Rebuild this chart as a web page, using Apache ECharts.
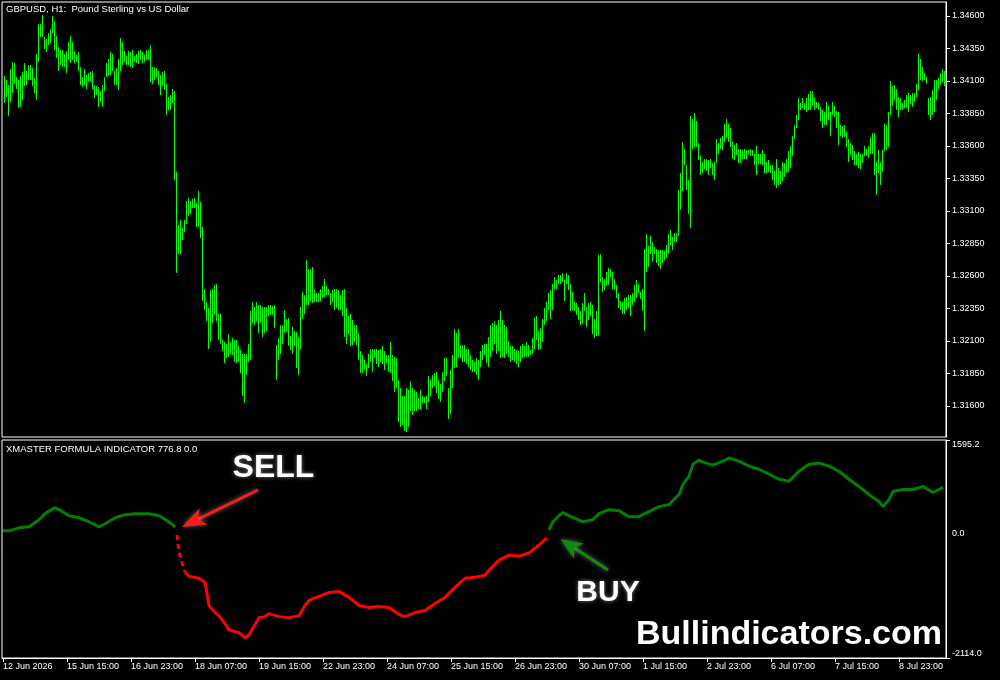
<!DOCTYPE html>
<html><head><meta charset="utf-8">
<script src="https://cdn.jsdelivr.net/npm/echarts@6/dist/echarts.min.js"></script>
<style>html,body{margin:0;padding:0;background:#000}#c{width:1000px;height:680px}</style>
</head><body><div id="c"></div>
<script>
const highs = [
1.3414,1.3411,1.3407,1.3419,1.3425,1.3424,1.3413,1.3411,1.3414,1.3417,1.3424,1.3418,1.3422,1.3422,1.3420,1.3412,1.3431,1.3454,1.3454,1.3461,
1.3444,1.3442,1.3447,1.3450,1.3460,1.3456,1.3445,1.3436,1.3434,1.3434,1.3431,1.3433,1.3440,1.3445,1.3440,1.3433,1.3430,1.3432,1.3421,1.3413,
1.3419,1.3415,1.3416,1.3417,1.3418,1.3407,1.3406,1.3405,1.3402,1.3407,1.3413,1.3424,1.3427,1.3432,1.3431,1.3418,1.3420,1.3427,1.3443,1.3440,
1.3433,1.3429,1.3433,1.3432,1.3434,1.3429,1.3431,1.3433,1.3434,1.3432,1.3430,1.3434,1.3434,1.3438,1.3421,1.3421,1.3420,1.3418,1.3415,1.3417,
1.3418,1.3408,1.3398,1.3399,1.3404,1.3402,1.3340,1.3299,1.3303,1.3297,1.3303,1.3318,1.3320,1.3318,1.3319,1.3320,1.3316,1.3325,1.3317,1.3298,
1.3250,1.3240,1.3235,1.3249,1.3250,1.3253,1.3254,1.3231,1.3231,1.3211,1.3209,1.3208,1.3215,1.3209,1.3212,1.3211,1.3211,1.3207,1.3203,1.3200,
1.3200,1.3200,1.3208,1.3233,1.3240,1.3236,1.3240,1.3238,1.3238,1.3236,1.3236,1.3236,1.3238,1.3238,1.3237,1.3238,1.3207,1.3212,1.3222,1.3222,
1.3234,1.3227,1.3228,1.3214,1.3221,1.3218,1.3217,1.3213,1.3236,1.3248,1.3245,1.3272,1.3265,1.3265,1.3267,1.3249,1.3247,1.3247,1.3250,1.3252,
1.3258,1.3252,1.3250,1.3247,1.3249,1.3250,1.3250,1.3249,1.3245,1.3249,1.3250,1.3235,1.3229,1.3231,1.3226,1.3222,1.3222,1.3216,1.3202,1.3199,
1.3195,1.3192,1.3200,1.3204,1.3204,1.3204,1.3204,1.3203,1.3204,1.3206,1.3202,1.3199,1.3199,1.3209,1.3199,1.3198,1.3197,1.3180,1.3174,1.3168,
1.3168,1.3174,1.3172,1.3179,1.3174,1.3172,1.3171,1.3166,1.3172,1.3168,1.3167,1.3168,1.3183,1.3180,1.3184,1.3185,1.3186,1.3180,1.3177,1.3186,
1.3197,1.3197,1.3174,1.3188,1.3199,1.3219,1.3216,1.3219,1.3207,1.3207,1.3207,1.3204,1.3204,1.3199,1.3195,1.3194,1.3197,1.3195,
1.3202,1.3207,1.3208,1.3208,1.3213,1.3222,1.3224,1.3225,1.3222,1.3226,1.3233,1.3226,1.3222,1.3221,1.3210,1.3206,1.3206,1.3204,1.3203,1.3202,
1.3206,1.3208,1.3206,1.3209,1.3207,1.3203,1.3212,1.3228,1.3229,1.3218,1.3220,1.3227,1.3235,1.3240,1.3247,1.3249,1.3254,1.3259,1.3257,1.3261,
1.3261,1.3262,1.3257,1.3262,1.3261,1.3254,1.3248,1.3240,1.3239,1.3236,1.3233,1.3239,1.3247,1.3236,1.3239,1.3240,1.3238,1.3227,1.3233,1.3276,
1.3277,1.3259,1.3258,1.3263,1.3266,1.3265,1.3263,1.3258,1.3253,1.3247,1.3241,1.3240,1.3243,1.3244,1.3245,1.3245,1.3247,1.3253,1.3257,1.3254,
1.3248,1.3250,1.3281,1.3292,1.3283,1.3291,1.3286,1.3282,1.3281,1.3280,1.3280,1.3280,1.3279,1.3284,1.3292,1.3295,1.3290,1.3293,1.3293,1.3326,
1.3339,1.3363,1.3358,1.3345,1.3334,1.3383,1.3381,1.3385,1.3379,1.3362,1.3352,1.3348,1.3350,1.3350,1.3349,1.3350,1.3347,1.3348,1.3365,1.3362,
1.3366,1.3368,1.3377,1.3381,1.3377,1.3374,1.3363,1.3361,1.3362,1.3358,1.3358,1.3357,1.3358,1.3357,1.3357,1.3358,1.3357,1.3354,1.3360,1.3354,
1.3354,1.3357,1.3354,1.3348,1.3349,1.3345,1.3345,1.3341,1.3350,1.3343,1.3341,1.3348,1.3347,1.3350,1.3356,1.3360,1.3368,1.3376,1.3384,1.3397,
1.3393,1.3397,1.3393,1.3397,1.3400,1.3402,1.3402,1.3398,1.3394,1.3393,1.3390,1.3388,1.3386,1.3394,1.3391,1.3386,1.3394,1.3391,1.3387,1.3386,
1.3376,1.3375,1.3376,1.3371,1.3365,1.3362,1.3361,1.3356,1.3354,1.3355,1.3354,1.3354,1.3360,1.3358,1.3360,1.3367,1.3370,1.3370,1.3348,1.3357,
1.3348,1.3357,1.3377,1.3376,1.3386,1.3410,1.3406,1.3407,1.3404,1.3398,1.3397,1.3393,1.3395,1.3399,1.3401,1.3399,1.3401,1.3401,1.3408,1.3431,
1.3427,1.3421,1.3416,1.3413,1.3397,1.3398,1.3403,1.3411,1.3411,1.3412,1.3416,1.3419,1.3418
];
const lows = [
1.3393,1.3398,1.3383,1.3394,1.3401,1.3408,1.3404,1.3389,1.3390,1.3395,1.3406,1.3407,1.3411,1.3411,1.3406,1.3401,1.3395,1.3425,1.3444,1.3444,
1.3435,1.3432,1.3438,1.3439,1.3447,1.3434,1.3428,1.3418,1.3422,1.3421,1.3421,1.3416,1.3426,1.3424,1.3426,1.3424,1.3425,1.3418,1.3407,1.3405,
1.3407,1.3404,1.3409,1.3409,1.3404,1.3397,1.3399,1.3390,1.3394,1.3390,1.3402,1.3413,1.3414,1.3415,1.3418,1.3407,1.3407,1.3403,1.3418,1.3422,
1.3425,1.3422,1.3422,1.3421,1.3420,1.3425,1.3424,1.3423,1.3426,1.3424,1.3425,1.3426,1.3426,1.3409,1.3408,1.3411,1.3412,1.3407,1.3399,1.3406,
1.3403,1.3384,1.3388,1.3388,1.3393,1.3334,1.3262,1.3277,1.3277,1.3288,1.3294,1.3300,1.3306,1.3308,1.3312,1.3312,1.3298,1.3298,1.3289,1.3241,
1.3234,1.3225,1.3204,1.3209,1.3224,1.3230,1.3225,1.3211,1.3208,1.3202,1.3193,1.3197,1.3198,1.3200,1.3199,1.3194,1.3193,1.3194,1.3185,1.3168,
1.3162,1.3184,1.3194,1.3195,1.3224,1.3222,1.3225,1.3216,1.3224,1.3213,1.3216,1.3218,1.3229,1.3230,1.3230,1.3220,1.3180,1.3195,1.3200,1.3208,
1.3216,1.3217,1.3206,1.3203,1.3200,1.3206,1.3189,1.3184,1.3204,1.3227,1.3231,1.3238,1.3238,1.3240,1.3239,1.3240,1.3240,1.3240,1.3241,1.3243,
1.3244,1.3245,1.3245,1.3238,1.3240,1.3234,1.3235,1.3234,1.3234,1.3229,1.3213,1.3208,1.3215,1.3206,1.3207,1.3209,1.3207,1.3195,1.3185,1.3185,
1.3188,1.3183,1.3189,1.3194,1.3186,1.3197,1.3192,1.3190,1.3194,1.3192,1.3188,1.3193,1.3186,1.3185,1.3179,1.3171,1.3174,1.3148,1.3144,1.3145,
1.3141,1.3140,1.3144,1.3156,1.3153,1.3156,1.3156,1.3158,1.3158,1.3162,1.3162,1.3158,1.3163,1.3168,1.3174,1.3175,1.3170,1.3165,1.3163,1.3171,
1.3179,1.3183,1.3150,1.3154,1.3174,1.3189,1.3190,1.3197,1.3197,1.3194,1.3194,1.3192,1.3190,1.3188,1.3186,1.3186,1.3184,1.3180,
1.3190,1.3195,1.3199,1.3193,1.3190,1.3198,1.3202,1.3208,1.3200,1.3202,1.3197,1.3198,1.3197,1.3200,1.3198,1.3194,1.3195,1.3194,1.3192,1.3190,
1.3194,1.3197,1.3198,1.3198,1.3198,1.3199,1.3200,1.3204,1.3211,1.3203,1.3204,1.3209,1.3222,1.3225,1.3234,1.3227,1.3234,1.3250,1.3250,1.3254,
1.3254,1.3255,1.3241,1.3254,1.3249,1.3233,1.3234,1.3233,1.3230,1.3226,1.3222,1.3223,1.3233,1.3221,1.3226,1.3229,1.3215,1.3212,1.3214,1.3214,
1.3255,1.3248,1.3249,1.3252,1.3253,1.3259,1.3250,1.3250,1.3243,1.3235,1.3234,1.3231,1.3231,1.3234,1.3235,1.3229,1.3238,1.3240,1.3243,1.3247,
1.3242,1.3233,1.3218,1.3263,1.3267,1.3277,1.3271,1.3277,1.3270,1.3268,1.3265,1.3270,1.3272,1.3274,1.3277,1.3284,1.3280,1.3286,1.3286,1.3291,
1.3311,1.3325,1.3345,1.3326,1.3308,1.3297,1.3358,1.3359,1.3359,1.3349,1.3338,1.3339,1.3342,1.3341,1.3338,1.3343,1.3338,1.3334,1.3347,1.3354,
1.3358,1.3357,1.3363,1.3366,1.3363,1.3359,1.3350,1.3349,1.3353,1.3347,1.3347,1.3350,1.3350,1.3350,1.3354,1.3352,1.3352,1.3345,1.3338,1.3346,
1.3346,1.3345,1.3339,1.3339,1.3340,1.3339,1.3334,1.3330,1.3328,1.3330,1.3331,1.3333,1.3336,1.3339,1.3340,1.3343,1.3352,1.3365,1.3374,1.3380,
1.3388,1.3389,1.3388,1.3386,1.3388,1.3388,1.3391,1.3388,1.3389,1.3388,1.3379,1.3374,1.3376,1.3376,1.3380,1.3368,1.3384,1.3382,1.3374,1.3361,
1.3368,1.3366,1.3367,1.3359,1.3348,1.3353,1.3349,1.3345,1.3345,1.3343,1.3342,1.3347,1.3352,1.3352,1.3351,1.3354,1.3354,1.3338,1.3322,1.3339,
1.3330,1.3340,1.3356,1.3357,1.3359,1.3384,1.3391,1.3395,1.3388,1.3382,1.3388,1.3388,1.3389,1.3389,1.3386,1.3392,1.3390,1.3394,1.3398,1.3403,
1.3411,1.3410,1.3411,1.3408,1.3384,1.3380,1.3384,1.3386,1.3395,1.3404,1.3407,1.3409,1.3406
];
// indicator readings: [bar index, value]
const indGreenA = [[0,50],[3,50],[8,101],[13,118],[18,239],[21,342],[26,445],[29,393],[33,307],[38,273],[43,204],[48,118],[51,170],[56,273],[61,325],[66,342],[73,342],[78,307],[83,204],[86,118]];
const indRedStart = [[87,-19],[88,-311],[91,-654]];
const indRed = [[91,-654],[93,-723],[98,-757],[101,-826],[103,-1221],[106,-1341],[108,-1393],[111,-1530],[113,-1633],[118,-1684],[121,-1770],[123,-1719],[126,-1547],[128,-1427],[131,-1410],[133,-1359],[138,-1410],[143,-1427],[148,-1393],[151,-1221],[153,-1135],[158,-1066],[163,-998],[168,-981],[173,-1083],[178,-1221],[183,-1255],[188,-1238],[193,-1255],[198,-1375],[201,-1410],[206,-1341],[211,-1307],[216,-1187],[221,-1083],[226,-912],[231,-757],[236,-740],[241,-706],[243,-620],[248,-448],[253,-363],[258,-380],[263,-328],[268,-191],[272,-70]];
const indGreenB = [[273,67],[275,204],[278,307],[280,359],[285,273],[290,204],[295,239],[298,342],[303,410],[308,393],[313,290],[318,290],[323,376],[328,462],[333,496],[338,668],[340,840],[343,977],[345,1184],[348,1253],[350,1219],[355,1167],[360,1236],[363,1288],[368,1236],[373,1150],[378,1098],[383,1013],[388,927],[393,892],[398,1064],[403,1184],[408,1201],[413,1150],[418,1064],[423,927],[428,805],[433,668],[438,547],[440,462],[443,582],[445,719],[450,754],[455,754],[460,805],[465,702],[470,788]];
const priceTicks = [1.3160,1.3185,1.3210,1.3235,1.3260,1.3285,1.3310,1.3335,1.3360,1.3385,1.3410,1.3435,1.3460];
const indTicks = [-2114.0, 0.0, 1595.2];
const timeLabels = ['12 Jun 2026','15 Jun 15:00','16 Jun 23:00','18 Jun 07:00','19 Jun 15:00','22 Jun 23:00','24 Jun 07:00','25 Jun 15:00','26 Jun 23:00','30 Jun 07:00','1 Jul 15:00','2 Jul 23:00','6 Jul 07:00','7 Jul 15:00','8 Jul 23:00'];
const LABEL_STEP = 32;

// hourly categories (weekends skipped), plus the next, still empty hour at the right edge
const categories = [];
let t = Date.UTC(2026, 5, 12, 7);
while (categories.length < highs.length + 1) {
  const wd = new Date(t).getUTCDay();
  if (wd !== 0 && wd !== 6) categories.push(t);
  t += 3600000;
}

const FONT = '"Liberation Sans", Arial, sans-serif';
const chart = echarts.init(document.getElementById('c'), null, {renderer: 'canvas'});

function arrow(tail, tip, headLen, headHalf, color) {
  const dx = tip[0] - tail[0], dy = tip[1] - tail[1];
  const L = Math.hypot(dx, dy), ux = dx / L, uy = dy / L, nx = -uy, ny = ux;
  const bx = tip[0] - headLen * ux, by = tip[1] - headLen * uy;
  const notchX = tip[0] - headLen * 0.75 * ux, notchY = tip[1] - headLen * 0.75 * uy;
  const shadow = {shadowBlur: 5, shadowColor: 'rgba(150,150,150,0.7)'};
  return [
    {type: 'polyline', silent: true, shape: {points: [tail, [notchX, notchY]]}, style: Object.assign({stroke: color, lineWidth: 3, fill: null}, shadow), z: 100},
    {type: 'polygon', silent: true, shape: {points: [tip, [bx + headHalf * nx, by + headHalf * ny], [notchX, notchY], [bx - headHalf * nx, by - headHalf * ny]]}, style: Object.assign({fill: color}, shadow), z: 100}
  ];
}

const option = {
  backgroundColor: '#000',
  animation: false,
  grid: [
    {left: 2, right: 54, top: 2, height: 435, show: true, borderColor: '#fff', borderWidth: 1, backgroundColor: 'transparent'},
    {left: 2, right: 54, top: 440, height: 218, show: true, borderColor: '#fff', borderWidth: 1, backgroundColor: 'transparent'}
  ],
  xAxis: [
    {type: 'category', gridIndex: 0, data: categories, boundaryGap: true, axisLine: {show: false}, axisTick: {show: false}, axisLabel: {show: false}, splitLine: {show: false}},
    {type: 'category', gridIndex: 1, data: categories, boundaryGap: true,
     axisLine: {show: true, onZero: false, lineStyle: {color: '#fff', width: 1}},
     axisTick: {show: true, alignWithLabel: true, length: 4, interval: (i) => i % LABEL_STEP === 0, lineStyle: {color: '#fff'}},
     axisLabel: {show: true, interval: (i) => i % LABEL_STEP === 0, formatter: (v, i) => timeLabels[Math.round(i / LABEL_STEP)] || '', align: 'left', color: '#fff', fontSize: 9, fontFamily: FONT, margin: 4},
     splitLine: {show: false}}
  ],
  yAxis: [
    {type: 'value', gridIndex: 0, position: 'right', min: 1.313615, max: 1.347077, scale: true,
     axisLine: {show: true, lineStyle: {color: '#fff'}},
     axisTick: {show: true, length: 4, customValues: priceTicks, lineStyle: {color: '#fff'}},
     axisLabel: {show: true, customValues: priceTicks, formatter: (v) => v.toFixed(5), color: '#fff', fontSize: 9, fontFamily: FONT, margin: 6},
     splitLine: {show: false}},
    {type: 'value', gridIndex: 1, position: 'right', min: -2114.0, max: 1595.2,
     axisLine: {show: true, lineStyle: {color: '#fff'}},
     axisTick: {show: true, length: 4, customValues: [indTicks[0], indTicks[2]], lineStyle: {color: '#fff'}},
     axisLabel: {show: true, customValues: indTicks, formatter: (v) => v.toFixed(1), color: '#fff', fontSize: 9, fontFamily: FONT, margin: 6, verticalAlignMaxLabel: 'top', verticalAlignMinLabel: 'bottom'},
     splitLine: {show: false}}
  ],
  series: [
    {type: 'custom', xAxisIndex: 0, yAxisIndex: 0, clip: true, progressive: 0, silent: true,
     data: highs.map((h, i) => [i, h, lows[i]]),
     encode: {x: 0, y: [1, 2]},
     renderItem: function (params, api) {
       const i = api.value(0);
       const top = api.coord([i, api.value(1)]);
       const bot = api.coord([i, api.value(2)]);
       const x = Math.round(top[0]) + 1;
       const y0 = Math.round(top[1]);
       return {type: 'rect', shape: {x: x, y: y0, width: 1, height: Math.max(1, Math.round(bot[1]) - y0)}, style: {fill: '#00ff00', opacity: 1}};
     }},
    {type: 'line', xAxisIndex: 1, yAxisIndex: 1, data: indGreenA, showSymbol: false, silent: true, lineStyle: {color: '#008000', width: 3}},
    {type: 'line', xAxisIndex: 1, yAxisIndex: 1, data: indRedStart, showSymbol: false, silent: true, lineStyle: {color: '#ff0000', width: 3, type: [5, 4]}},
    {type: 'line', xAxisIndex: 1, yAxisIndex: 1, data: indRed, showSymbol: false, silent: true, lineStyle: {color: '#ff0000', width: 3}},
    {type: 'line', xAxisIndex: 1, yAxisIndex: 1, data: indGreenB, showSymbol: false, silent: true, lineStyle: {color: '#008000', width: 3}}
  ],
  graphic: [
    {type: 'text', left: 6, top: 4, style: {text: 'GBPUSD, H1:  Pound Sterling vs US Dollar', fill: '#fff', font: '9.5px ' + FONT}},
    {type: 'text', left: 6, top: 444, style: {text: 'XMASTER FORMULA INDICATOR 776.8 0.0', fill: '#fff', font: '9.5px ' + FONT}},
    {type: 'text', x: 273.5, y: 468, style: {text: 'SELL', fill: '#fff', font: 'bold 32px ' + FONT, textAlign: 'center', textVerticalAlign: 'middle', textShadowColor: 'rgba(140,140,140,0.9)', textShadowBlur: 4}, z: 100},
    {type: 'text', x: 608, y: 593, style: {text: 'BUY', fill: '#fff', font: 'bold 30px ' + FONT, textAlign: 'center', textVerticalAlign: 'middle', textShadowColor: 'rgba(140,140,140,0.9)', textShadowBlur: 4}, z: 100},
    {type: 'text', x: 789, y: 635, style: {text: 'Bullindicators.com', fill: '#fff', font: 'bold 34px ' + FONT, textAlign: 'center', textVerticalAlign: 'middle'}, z: 100}
  ].concat(arrow([258, 490], [182, 527], 24, 9, '#ff1a1a')).concat(arrow([608, 570], [560.5, 539], 22, 9, '#0c8c0c'))
};
chart.setOption(option);
</script></body></html>
